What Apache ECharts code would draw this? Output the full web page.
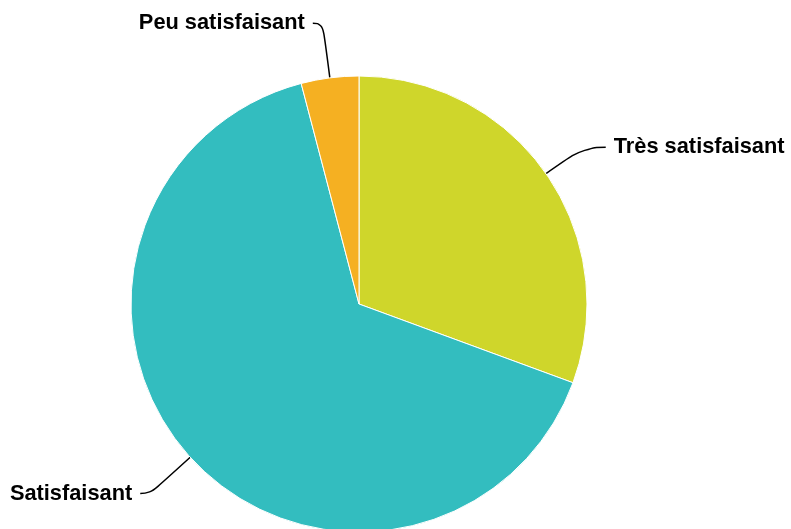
<!DOCTYPE html>
<html>
<head>
<meta charset="utf-8">
<script src="https://cdn.jsdelivr.net/npm/echarts@6/dist/echarts.min.js"></script>
<style>
  html, body { margin: 0; padding: 0; background: #fff; }
  #chart { width: 791px; height: 529px; }
</style>
</head>
<body>
<div id="chart"></div>
<script>
// réponses (nombre de personnes)
const categories = ['Très satisfaisant', 'Satisfaisant', 'Peu satisfaisant'];
const counts = [15, 32, 2];
const colors = ['#cfd62b', '#33bdbf', '#f5b022'];

const lineLens = [[46, 22], [54, 10], [55, 10]];

const chart = echarts.init(document.getElementById('chart'));

const option = {
  animation: false,
  color: colors,
  series: [
    {
      type: 'pie',
      center: [359, 304],
      radius: 228,
      startAngle: 90,
      clockwise: true,
      data: categories.map((name, i) => ({
        name: name,
        value: counts[i],
        labelLine: { length: lineLens[i][0], length2: lineLens[i][1] }
      })),
      itemStyle: { borderColor: '#fff', borderWidth: 1 },
      label: {
        color: '#000',
        fontFamily: 'Liberation Sans, Arial, sans-serif',
        fontWeight: 'bold',
        fontSize: 21.8,
        overflow: 'none',
        distanceToLabelLine: 8
      },
      labelLine: {
        smooth: 0.5,
        lineStyle: { color: '#000', width: 1.5 }
      }
    }
  ]
};

chart.setOption(option);
</script>
</body>
</html>
